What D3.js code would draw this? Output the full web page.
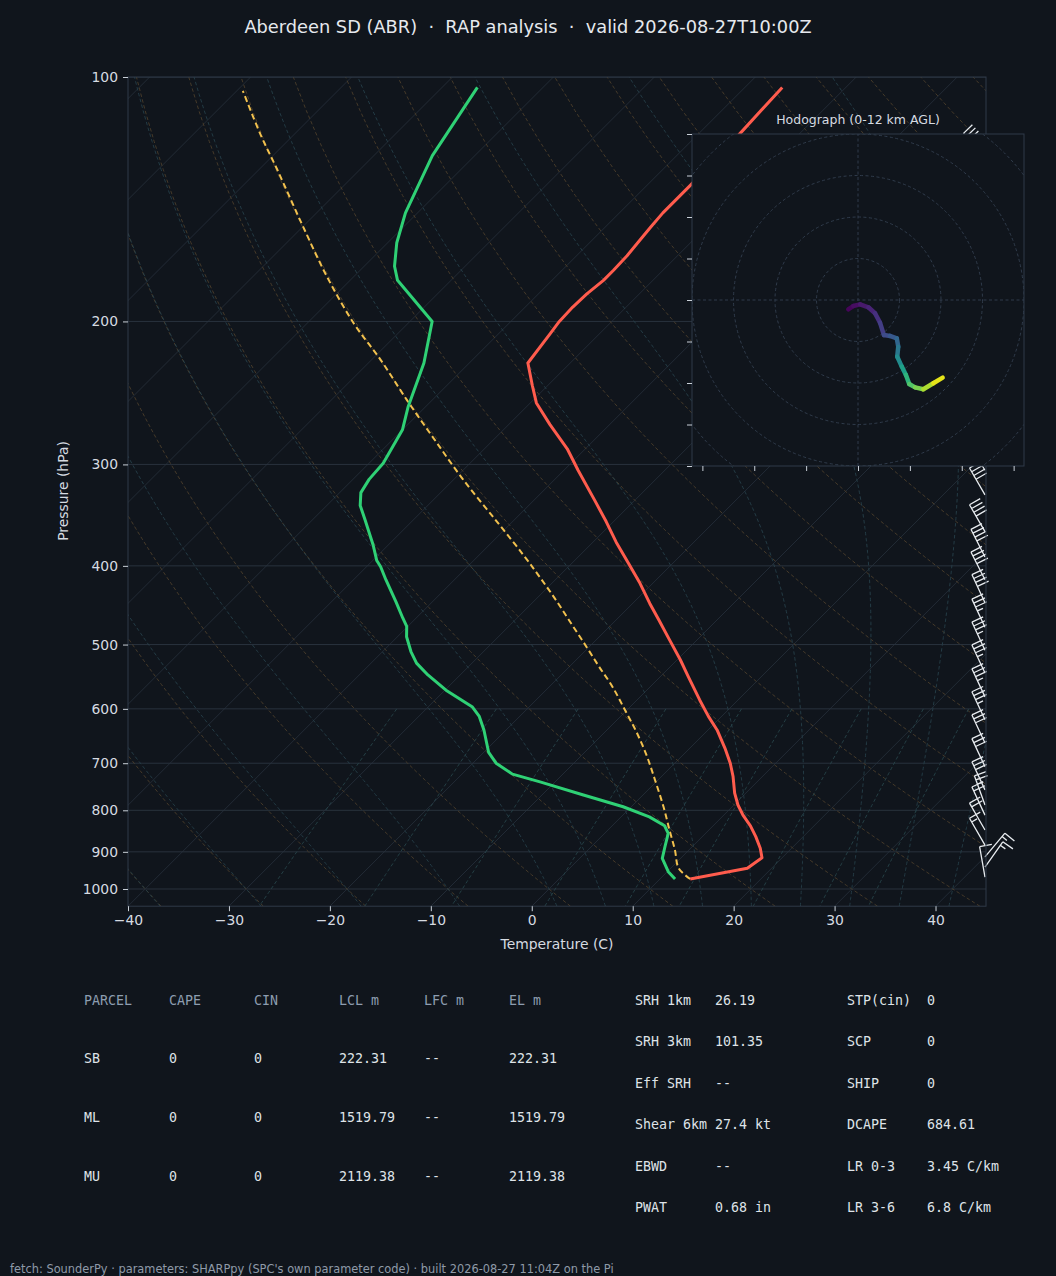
<!DOCTYPE html>
<html>
<head>
<meta charset="utf-8">
<script src="https://cdn.jsdelivr.net/npm/d3@7"></script>
<style>
  body { margin: 0; background: #10151c; }
  svg { display: block; font-family: "DejaVu Sans", sans-serif; }
</style>
</head>
<body>
<svg id="chart" width="1056" height="1276"></svg>
<script>
// ---- sounding (hPa / degC) ----
const tempP = [972,943,915,891,862,836,811,788,762,727,700,671,637,613,585,548,522,491,466,445,420,397,374,353,332,305,287,268,252,240,225,207,200,192,185,178,173,166,158,153,147,140,136,118,103];
const tempC = [13.0,17.6,18.0,16.9,15.3,13.7,11.9,10.4,8.9,7.1,5.5,3.5,0.9,-1.3,-3.8,-7.2,-9.7,-13.0,-15.8,-18.3,-21.3,-24.4,-27.7,-30.7,-34.0,-38.6,-41.8,-45.9,-49.4,-51.5,-54.2,-54.9,-55.2,-55.3,-55.2,-54.9,-54.9,-55.0,-55.3,-55.5,-55.7,-55.7,-55.7,-55.9,-56.3];

const dewP = [972,952,917,887,854,836,815,792,766,738,722,700,679,637,613,597,569,545,527,510,489,475,464,443,416,401,394,377,351,337,325,313,299,272,255,225,200,178,171,160,147,125,103];
const dewC = [11.5,10.1,8.2,7.3,6.3,5.2,2.8,-0.8,-5.9,-11.5,-15.0,-17.7,-19.5,-22.2,-24.0,-25.6,-29.9,-33.2,-35.5,-37.2,-39.1,-40.1,-41.3,-43.6,-46.8,-48.6,-49.6,-51.5,-54.8,-56.7,-57.9,-58.4,-58.6,-60.0,-61.7,-64.5,-67.8,-75.3,-77.0,-79.1,-81.2,-84.2,-86.5];

const parcelP = [972,943,895,846,792,734,687,643,602,563,532,503,471,441,413,388,352,313,278,250,223,201,176,151,130,118,104];
const parcelC = [13.0,10.8,8.6,6.1,3.2,-0.3,-3.4,-6.7,-10.2,-13.8,-17.1,-20.3,-24.1,-27.9,-31.8,-35.6,-41.7,-49.1,-56.2,-62.5,-69.1,-75.4,-82.7,-90.6,-98.2,-103.2,-109.4];

// wind barbs: level (hPa), direction from (deg), speed (kt)
const barbP   = [967,940,913,883,846,811,788,755,707,661,619,580,542,508,476,444,416,390,363,327,305,286,268,250,234,219,205,192,180,169,158,148,139,125];
const barbDir = [350,35,40,330,330,335,340,335,335,335,335,335,335,335,335,335,333,333,330,330,328,328,326,326,325,325,325,322,322,320,320,318,318,316];
const barbSpd = [10,15,15,15,20,20,25,30,30,30,35,35,35,35,35,40,40,40,40,40,40,40,45,45,45,45,45,45,45,45,45,45,45,45];

// hodograph trace (kt) with height AGL (km)
const hodoU = [-4.7,-2.3,1.0,5.0,8.2,10.6,12.5,15.4,18.7,19.4,18.9,21.1,23.1,24.7,27.5,31.5,36.3,40.8];
const hodoV = [-4.5,-2.9,-2.1,-3.5,-6.4,-10.9,-16.9,-17.3,-18.5,-22.5,-27.3,-32.1,-36.1,-40.5,-42.1,-43.0,-40.1,-37.4];
const hodoZ = [0,0.3,0.6,1.0,1.4,1.9,2.5,3.0,3.5,4.3,5.2,6.3,7.3,8.3,9.2,10.0,11.0,12.0];

const pTicks = [100,200,300,400,500,600,700,800,900,1000];
const tTicks = [-40,-30,-20,-10,0,10,20,30,40];
const hodoRings = [20,40,60,80,100];
const hodoXTicks = [-75,-50,-25,0,25,50,75];
const hodoYTicks = [-80,-60,-40,-20,0,20,40,60,80];

// parameter tables
const parcelHead = ["PARCEL","CAPE","CIN","LCL m","LFC m","EL m"];
const parcelRows = [
  ["SB","0","0","222.31","--","222.31"],
  ["ML","0","0","1519.79","--","1519.79"],
  ["MU","0","0","2119.38","--","2119.38"]
];
const indexA = [["SRH 1km","26.19"],["SRH 3km","101.35"],["Eff SRH","--"],["Shear 6km","27.4 kt"],["EBWD","--"],["PWAT","0.68 in"]];
const indexB = [["STP(cin)","0"],["SCP","0"],["SHIP","0"],["DCAPE","684.61"],["LR 0-3","3.45 C/km"],["LR 3-6","6.8 C/km"]];

// ---- drawing ----
const svg = d3.select("#chart");
const box = { left: 128, top: 77, right: 986, bottom: 906.2 };

const y = d3.scaleLog().domain([1050, 100]).range([box.bottom, box.top]);
const x = d3.scaleLinear().domain([-40, 45]).range([box.left, box.right]);
const skew = 1.0;
const sx = (t, p) => x(t) + (box.bottom - y(p)) * skew;

svg.append("rect").attr("width", 1056).attr("height", 1276).attr("fill", "#10151c");

svg.append("defs").append("clipPath").attr("id", "plotClip")
  .append("rect").attr("x", box.left).attr("y", box.top)
  .attr("width", box.right - box.left).attr("height", box.bottom - box.top);

const plot = svg.append("g").attr("clip-path", "url(#plotClip)");

const line = d3.line().x(d => sx(d[1], d[0])).y(d => y(d[0]));

// background thermodynamic lines
const Rd = 287.04749, Cpd = 1004.6662, Lv = 2.50084e6, eps = 0.6219569;
const satVap = tk => 6.112 * Math.exp(17.67 * (tk - 273.15) / (tk - 29.65));
function moistSlope(p, tk) {
  const e = satVap(tk);
  const rs = eps * e / Math.max(p - e, 1e-3);
  return (Rd * tk + Lv * rs) / (Cpd + Lv * Lv * rs * eps / (Rd * tk * tk)) / p;
}
function moistCurve(t0) {
  const run = (pEnd, dp) => {
    let p = 1000, t = t0 + 273.15;
    const out = [[p, t - 273.15]];
    while ((dp < 0 && p > pEnd) || (dp > 0 && p < pEnd)) {
      const k1 = moistSlope(p, t);
      const k2 = moistSlope(p + dp / 2, t + dp / 2 * k1);
      const k3 = moistSlope(p + dp / 2, t + dp / 2 * k2);
      const k4 = moistSlope(p + dp, t + dp * k3);
      t += dp / 6 * (k1 + 2 * k2 + 2 * k3 + k4);
      p += dp;
      out.push([p, t - 273.15]);
    }
    return out;
  };
  return run(1050, 5).reverse().concat(run(100, -5).slice(1));
}
const pLevels = d3.range(1050, 99, -10);

// isotherms (skewed x grid)
d3.range(-130, 50, 10).forEach(t => {
  plot.append("path").attr("d", line([[1050, t], [100, t]]))
    .attr("stroke", "#252e39").attr("stroke-width", 0.9).attr("fill", "none");
});
// pressure grid
pTicks.forEach(p => {
  plot.append("line").attr("x1", box.left).attr("x2", box.right)
    .attr("y1", y(p)).attr("y2", y(p))
    .attr("stroke", "#29323d").attr("stroke-width", 1);
});
// dry adiabats
d3.range(-40, 246, 10).forEach(t0 => {
  const pts = pLevels.map(p => [p, (t0 + 273.15) * Math.pow(p / 1000, 0.2857) - 273.15]);
  plot.append("path").attr("d", line(pts))
    .attr("stroke", "#4c3e2b").attr("stroke-width", 0.9).attr("stroke-dasharray", "3.5,2.5").attr("fill", "none");
});
// moist adiabats
[-40,-30,-20,-10,0,5,10,15,20,25,30,35,40,45].forEach(t0 => {
  plot.append("path").attr("d", line(moistCurve(t0)))
    .attr("stroke", "#263f49").attr("stroke-width", 0.9).attr("stroke-dasharray", "3.5,2.5").attr("fill", "none");
});
// mixing ratio lines
[0.0004,0.001,0.002,0.004,0.007,0.01,0.016,0.024,0.032].forEach(w => {
  const pts = d3.range(600, 1051, 10).map(p => {
    const e = p * w / (eps + w), l = Math.log(e / 6.112);
    return [p, 243.5 * l / (17.67 - l)];
  });
  plot.append("path").attr("d", line(pts))
    .attr("stroke", "#27444a").attr("stroke-width", 0.9).attr("stroke-dasharray", "3.5,2.5").attr("fill", "none");
});

// profiles
plot.append("path").attr("d", line.curve(d3.curveCatmullRom.alpha(0.5))(parcelP.map((p, i) => [p, parcelC[i]])))
  .attr("stroke", "#f2c14e").attr("stroke-width", 2).attr("stroke-dasharray", "6,3.5").attr("fill", "none");
line.curve(d3.curveLinear);
plot.append("path").attr("d", line(tempP.map((p, i) => [p, tempC[i]])))
  .attr("stroke", "#ff5c4d").attr("stroke-width", 3).attr("stroke-linejoin", "round").attr("fill", "none");
plot.append("path").attr("d", line(dewP.map((p, i) => [p, dewC[i]])))
  .attr("stroke", "#2fd175").attr("stroke-width", 3).attr("stroke-linejoin", "round").attr("fill", "none");

// wind barbs along the right edge
function barbPath(bx, by, dir, spd) {
  const L = 31, sp = L * 0.14, fh = L * 0.4, fw = L * 0.25;
  const a = dir * Math.PI / 180;
  const ux = Math.sin(a), uy = -Math.cos(a);
  const rx = -uy, ry = ux;
  const pt = off => [bx + ux * off, by + uy * off];
  let s = Math.round(spd / 5) * 5;
  const nFlag = Math.floor(s / 50); s -= nFlag * 50;
  const nFull = Math.floor(s / 10); s -= nFull * 10;
  const half = s >= 5;
  const tip = pt(L);
  let d = `M${bx},${by}L${tip[0]},${tip[1]}`;
  let off = L;
  for (let i = 0; i < nFlag; i++) {
    const a0 = pt(off), a2 = pt(off - fw);
    const m = pt(off - fw / 2);
    d += `M${a0[0]},${a0[1]}L${m[0] + rx * fh},${m[1] + ry * fh}L${a2[0]},${a2[1]}Z`;
    off -= fw + sp;
  }
  for (let i = 0; i < nFull; i++) {
    const a0 = pt(off);
    d += `M${a0[0]},${a0[1]}L${a0[0] + rx * fh},${a0[1] + ry * fh}`;
    off -= sp;
  }
  if (half) {
    if (off === L) off -= 1.5 * sp;
    const a0 = pt(off);
    d += `M${a0[0]},${a0[1]}L${a0[0] + rx * fh / 2},${a0[1] + ry * fh / 2}`;
  }
  return d;
}
const barbs = svg.append("g");
barbP.forEach((p, i) => {
  barbs.append("path").attr("d", barbPath(box.right - 1, y(p), barbDir[i], barbSpd[i]))
    .attr("stroke", "#e8ecf0").attr("stroke-width", 1.3).attr("fill", "none");
});

// frame and axes
svg.append("rect").attr("x", box.left).attr("y", box.top)
  .attr("width", box.right - box.left).attr("height", box.bottom - box.top)
  .attr("fill", "none").attr("stroke", "#2f3a48").attr("stroke-width", 1);

const minus = d => (d < 0 ? "\u2212" + Math.abs(d) : String(d));
const yAxis = svg.append("g").attr("transform", `translate(${box.left},0)`)
  .call(d3.axisLeft(y).tickValues(pTicks).tickFormat(d3.format("d")).tickSize(5).tickPadding(5));
const xAxis = svg.append("g").attr("transform", `translate(0,${box.bottom})`)
  .call(d3.axisBottom(x).tickValues(tTicks).tickFormat(minus).tickSize(5).tickPadding(4));
[yAxis, xAxis].forEach(g => {
  g.select(".domain").remove();
  g.selectAll(".tick line").attr("stroke", "#c9d0d8");
  g.selectAll(".tick text").attr("fill", "#d6dbe1").style("font-size", "13.9px")
    .style("font-family", "DejaVu Sans");
});

svg.append("text").attr("x", 557).attr("y", 949).attr("text-anchor", "middle")
  .attr("fill", "#d6dbe1").style("font-size", "13.9px").text("Temperature (C)");
svg.append("text").attr("transform", "translate(68,491) rotate(-90)").attr("text-anchor", "middle")
  .attr("fill", "#d6dbe1").style("font-size", "13.9px").text("Pressure (hPa)");

svg.append("text").attr("x", 528).attr("y", 33).attr("text-anchor", "middle")
  .attr("fill", "#e6e9ee").style("font-size", "17.8px")
  .text("Aberdeen SD (ABR)  \u00b7  RAP analysis  \u00b7  valid 2026-08-27T10:00Z")
  .attr("xml:space", "preserve").style("white-space", "pre");

// ---- hodograph inset ----
const hb = { left: 692, top: 134, size: 332 };
const hu = d3.scaleLinear().domain([-80, 80]).range([hb.left, hb.left + hb.size]);
const hv = d3.scaleLinear().domain([-80, 80]).range([hb.top + hb.size, hb.top]);
const hodo = svg.append("g");
hodo.append("defs").append("clipPath").attr("id", "hodoClip")
  .append("rect").attr("x", hb.left).attr("y", hb.top).attr("width", hb.size).attr("height", hb.size);
hodo.append("rect").attr("x", hb.left).attr("y", hb.top).attr("width", hb.size).attr("height", hb.size)
  .attr("fill", "#10151c");
const hin = hodo.append("g").attr("clip-path", "url(#hodoClip)");
hodoRings.forEach(r => {
  hin.append("circle").attr("cx", hu(0)).attr("cy", hv(0)).attr("r", hu(r) - hu(0))
    .attr("fill", "none").attr("stroke", "#334050").attr("stroke-width", 0.9).attr("stroke-dasharray", "3,2.5");
});
hin.append("line").attr("x1", hu(-80)).attr("x2", hu(80)).attr("y1", hv(0)).attr("y2", hv(0))
  .attr("stroke", "#334050").attr("stroke-width", 0.9).attr("stroke-dasharray", "3,2.5");
hin.append("line").attr("x1", hu(0)).attr("x2", hu(0)).attr("y1", hv(-80)).attr("y2", hv(80))
  .attr("stroke", "#334050").attr("stroke-width", 0.9).attr("stroke-dasharray", "3,2.5");
for (let i = 0; i < hodoU.length - 1; i++) {
  hin.append("line")
    .attr("x1", hu(hodoU[i])).attr("y1", hv(hodoV[i]))
    .attr("x2", hu(hodoU[i + 1])).attr("y2", hv(hodoV[i + 1]))
    .attr("stroke", d3.interpolateViridis((hodoZ[i] + hodoZ[i + 1]) / 24))
    .attr("stroke-width", 4.5).attr("stroke-linecap", "round");
}
hodo.append("rect").attr("x", hb.left).attr("y", hb.top).attr("width", hb.size).attr("height", hb.size)
  .attr("fill", "none").attr("stroke", "#2f3a48").attr("stroke-width", 1);
const hy = hodo.append("g").attr("transform", `translate(${hb.left},0)`)
  .call(d3.axisLeft(hv).tickValues(hodoYTicks).tickFormat("").tickSize(5));
const hx = hodo.append("g").attr("transform", `translate(0,${hb.top + hb.size})`)
  .call(d3.axisBottom(hu).tickValues(hodoXTicks).tickFormat("").tickSize(5));
[hy, hx].forEach(g => {
  g.select(".domain").remove();
  g.selectAll(".tick line").attr("stroke", "#c9d0d8");
});
hodo.append("text").attr("x", hu(0)).attr("y", 124).attr("text-anchor", "middle")
  .attr("fill", "#d6dbe1").style("font-size", "12.5px").text("Hodograph (0-12 km AGL)");

// ---- parameter tables ----
const mono = "'DejaVu Sans Mono', monospace";
const colX = [84, 169, 254, 339, 424, 509];
const tbl = svg.append("g").style("font-family", mono).style("font-size", "13.3px");
parcelHead.forEach((h, j) => {
  tbl.append("text").attr("x", colX[j]).attr("y", 1004.5).attr("fill", "#8d9db0").text(h);
});
parcelRows.forEach((row, i) => {
  row.forEach((v, j) => {
    tbl.append("text").attr("x", colX[j]).attr("y", 1062.5 + i * 59).attr("fill", "#dfe3e8").text(v);
  });
});
indexA.forEach((r, i) => {
  const yy = 1004.5 + i * 41.5;
  tbl.append("text").attr("x", 635).attr("y", yy).attr("fill", "#dfe3e8").text(r[0]);
  tbl.append("text").attr("x", 715).attr("y", yy).attr("fill", "#dfe3e8").text(r[1]);
});
indexB.forEach((r, i) => {
  const yy = 1004.5 + i * 41.5;
  tbl.append("text").attr("x", 847).attr("y", yy).attr("fill", "#dfe3e8").text(r[0]);
  tbl.append("text").attr("x", 927).attr("y", yy).attr("fill", "#dfe3e8").text(r[1]);
});

svg.append("text").attr("x", 10).attr("y", 1273).attr("fill", "#8f9aa8").style("font-size", "11.4px")
  .text("fetch: SounderPy \u00b7 parameters: SHARPpy (SPC's own parameter code) \u00b7 built 2026-08-27 11:04Z on the Pi");
</script>
</body>
</html>
